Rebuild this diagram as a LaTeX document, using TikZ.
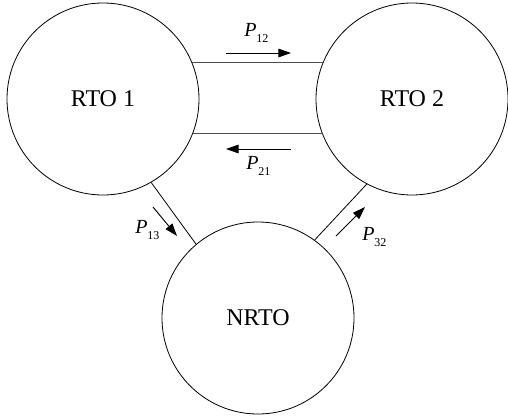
\documentclass[tikz,border=0pt]{standalone}
\usepackage{fontspec}
\setmainfont{Liberation Serif}
\usetikzlibrary{arrows.meta}
\tikzset{
  state/.style={circle, draw=black, line width=0.6pt, minimum size=144pt, inner sep=0pt, font=\fontsize{18}{18}\selectfont},
  link/.style={draw=black, line width=0.6pt},
  hlink/.style={draw=black!70, line width=0.75pt},
  flow/.style={draw=black, line width=0.7pt, -{Triangle[length=9.5pt,width=6.5pt]}},
  plabel/.style={anchor=base west, inner sep=0pt, font=\fontsize{15}{15}\selectfont}
}
\newcommand{\pl}[1]{\textit{P}\raisebox{-5pt}{\fontsize{9}{9}\selectfont #1}}
\begin{document}
\begin{tikzpicture}[x=0.75pt,y=-0.75pt]
\useasboundingbox (0,0) rectangle (508,418);
\node[state] (r1) at (103,99) {RTO 1};
\node[state] (r2) at (412,99) {RTO 2};
\node[state] (n) at (258,318) {NRTO};
\draw[hlink] (r1.22) -- (r1.22 -| r2.158);
\draw[hlink] (r1.-21.5) -- (r1.-21.5 -| r2.-158.5);
\draw[link] (r1.-60) -- (n.130);
\draw[link] (r2.-118) -- (n.54);
\coordinate (a12s) at (226,53);
\coordinate (a12e) at (291,53);
\coordinate (a21s) at (291,149);
\coordinate (a21e) at (226,149);
\coordinate (a13s) at (153,207);
\coordinate (a13e) at (177,236);
\coordinate (a32s) at (336,236);
\coordinate (a32e) at (365,207);
\draw[flow] (a12s) -- (a12e);
\draw[flow] (a21s) -- (a21e);
\draw[flow] (a13s) -- (a13e);
\draw[flow] (a32s) -- (a32e);
\node[plabel] (p12) at (244,36) {\pl{12}};
\node[plabel] (p21) at (246,169) {\pl{21}};
\node[plabel] (p13) at (135,233) {\pl{13}};
\node[plabel] (p32) at (362,240) {\pl{32}};
\end{tikzpicture}
\end{document}
